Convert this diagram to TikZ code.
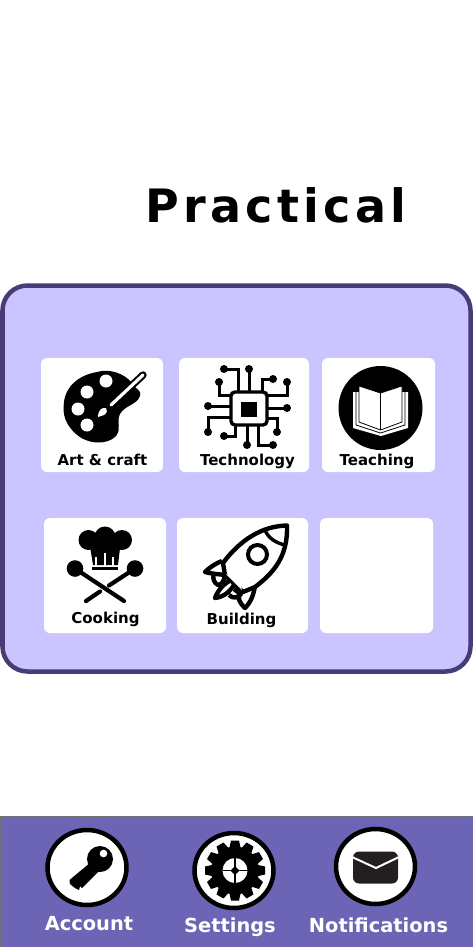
\documentclass[tikz,border=0pt]{standalone}
\usepackage{fontspec}
\setmainfont{DejaVu Sans}
\definecolor{panelfill}{HTML}{CAC4FF}
\definecolor{paneledge}{HTML}{483C78}
\definecolor{barfill}{HTML}{6C64B4}
\definecolor{envelopeink}{HTML}{231F20}
\tikzset{
  cardbox/.style={fill=white,rounded corners=6pt,draw=none},
  cardlabel/.style={font=\bfseries\fontsize{15}{16}\selectfont,text=black,inner sep=0pt,anchor=base},
  barlabel/.style={font=\bfseries\fontsize{19.4}{20}\selectfont,text=white,inner sep=0pt,anchor=base},
  badge/.style={draw=black,line width=4.5pt,fill=white},
  trace/.style={draw=black,line width=3pt},
  tool/.style={draw=black,line width=4.2pt,line cap=round},
  hull/.style={draw=black,line width=4.4pt,fill=white,line join=round},
}
\newcommand{\dotat}[1]{\fill[black] #1 circle (4pt);}
\begin{document}
\begin{tikzpicture}[x=1pt,y=-1pt]
\useasboundingbox (0,0) rectangle (473,947);
\fill[white] (0,0) rectangle (473,947);
\node[anchor=base west,inner sep=0pt,font=\bfseries\fontsize{46}{48}\selectfont\addfontfeatures{LetterSpace=9.4}] (title) at (145,222) {Practical};
% panel
\draw[fill=panelfill,draw=paneledge,line width=4.5pt,rounded corners=25pt] (2.5,285.5) rectangle (470.5,671.5);
% cards
\path[cardbox] (41,358) rectangle (163,472);
\path[cardbox] (179,358) rectangle (309,472);
\path[cardbox] (322,358) rectangle (435,472);
\path[cardbox] (44,518) rectangle (166,633);
\path[cardbox] (177,518) rectangle (308,633);
\path[cardbox] (320,518) rectangle (433,633);
\node[cardlabel] (art) at (102.5,465) {Art \& craft};
\node[cardlabel] (tech) at (247.5,465) {Technology};
\node[cardlabel] (teach) at (377,465) {Teaching};
\node[cardlabel] (cook) at (105.5,623.5) {Cooking};
\node[cardlabel] (build) at (241.5,624.5) {Building};
% palette
\fill[black] (97,372) .. controls (110,368) and (125,374) .. (132,383)
  .. controls (136,390) and (142,390) .. (140,396)
  .. controls (137,405) and (125,405) .. (120,414)
  .. controls (116,422) and (122,428) .. (116,436)
  .. controls (108,445) and (88,445) .. (76,434)
  .. controls (66,425) and (62,415) .. (64,402)
  .. controls (66,385) and (80,375) .. (97,372) -- cycle;
\fill[white] (106,381) circle (6.5pt) (87,392) circle (6.5pt) (78,409) circle (6.5pt) (87,425) circle (6.5pt);
\draw[black,line width=7.4pt,line cap=round] (143,375) -- (110,406);
\draw[white,line width=3.2pt,line cap=round] (143,375) -- (111,405);
\fill[white] (98,417) .. controls (98,410) and (102,407) .. (106,408) .. controls (108,410) and (107,413) .. (104,415) .. controls (102,416) and (100,416) .. (98,417) -- cycle;
% chip
\draw[trace] (224,369) -| (238,392);
\draw[trace] (249,369) -- (249,392);
\draw[trace] (273,379) -| (262,392);
\draw[trace] (287,382) |- (267,395);
\draw[trace] (287,408) -- (267,408);
\draw[trace] (277,432) |- (267,418);
\draw[trace] (273,445) -| (258,425);
\draw[trace] (247,445) -- (247,425);
\draw[trace] (224,436) -| (235,425);
\draw[trace] (208,432) |- (232,417);
\draw[trace] (208,406) -- (232,406);
\draw[trace] (219,382) |- (232,395);
\foreach \p in {(224,369),(249,369),(273,379),(287,382),(287,408),(277,432),(273,445),(247,445),(224,436),(208,432),(208,406),(219,382)} {\dotat{\p}}
\draw[black,line width=3.4pt,fill=white,rounded corners=4pt] (231,392) rectangle (267,425);
\fill[black] (241,402) rectangle (257,417);
% book
\fill[black] (380.5,408) circle (42pt);
\fill[white] (353,392) -- (359,392) -- (359,386) -- (380.5,393) -- (402,386) -- (402,392) -- (408,392) -- (408,428) -- (381,436) -- (353,428) -- cycle;
\draw[black,line width=.8pt,line join=round] (359,386) -- (380.5,393) -- (402,386) -- (402,422) -- (380.5,430) -- (359,422) -- cycle (380.5,393) -- (380.5,430);
\draw[black,line width=.8pt] (356,389) -- (356,425) -- (380.5,433) -- (405,425) -- (405,389);
% cooking
\fill[black] (88.5,540) circle (10pt) (105,537) circle (10.5pt) (122,540) circle (10pt);
\fill[black] (89,540) -- (121,540) -- (118,565) -- (93,565) -- cycle;
\draw[white,line width=1.3pt] (96,557) -- (96,566) (105,553) -- (105,566) (113,557) -- (113,566);
\fill[black] (92,567) rectangle (118,569.5);
\fill[black] (75,568.5) circle (8.3pt) (135,568.5) circle (8.3pt);
\draw[tool] (75,568.5) -- (124,601);
\draw[tool] (135,568.5) -- (109,585.5);
\draw[tool] (100,591.5) -- (86,601);
% rocket
\draw[hull] (239,597) .. controls (238,601) and (243,606) .. (245,608) .. controls (251,602) and (254,594) .. (255,585);
\draw[hull] (214,573) .. controls (212,578) and (214,583) .. (218,585) .. controls (222,585) and (224,580) .. (225,576);
\draw[hull] (222,561) .. controls (216,563) and (209,568) .. (205,572) .. controls (212,574) and (218,574) .. (225,575);
\draw[hull] (236,578.5) .. controls (225,581) and (218,590) .. (215,598) .. controls (224,597) and (234,590) .. (236,578.5) -- cycle;
\draw[hull] (234,589) .. controls (238,592) and (240,594) .. (241,594) .. controls (238,598) and (233,599) .. (229,595);
\draw[hull] (287,525.5) .. controls (262,526) and (240,540) .. (223,563) -- (225,575) -- (243,592) -- (255,587) .. controls (275,572) and (288,555) .. (287,525.5) -- cycle;
\draw[hull,fill=none,line width=3.4pt] (265,530) .. controls (268,538) and (276,543) .. (285,545);
\draw[draw=black,line width=4pt] (257.5,554.5) circle (9.5pt);
\fill[white] (226,574) -- (242,590) -- (238,578) -- cycle;
% bar
\draw[fill=barfill,draw=black!55,line width=1pt] (.5,816.5) rectangle (474,948);
\draw[badge] (87,867.5) ellipse (39.5pt and 37.5pt);
\draw[badge] (234,870.5) ellipse (39.5pt and 37.5pt);
\draw[badge] (375.5,866.5) ellipse (39.5pt and 37.5pt);
% key
\fill[black] (100,859) circle (13pt);
\fill[black] (91,862) -- (100,870) -- (82,888) -- (80,886) -- (79,890) -- (75,888) -- (70,884) -- (69.5,880) -- cycle;
\fill[white] (103.5,853.5) circle (3.8pt);
% gear
\foreach \a in {0,30,...,330} {\fill[black,rotate around={\a:(235,870.5)}] (231,840.5) -- (239,840.5) -- (241.5,852) -- (228.5,852) -- cycle;}
\fill[black] (235,870.5) circle (24pt);
\fill[white] (235,870.5) circle (12.5pt);
\draw[black,line width=1.2pt] (235,858) -- (235,883) (222.5,870.5) -- (247.5,870.5);
\fill[black] (235,866) -- (239.5,870.5) -- (235,875) -- (230.5,870.5) -- cycle;
% envelope
\fill[envelopeink,rounded corners=6pt] (353,851.5) rectangle (398,883.5);
\draw[white,line width=2pt] (352,857) -- (376,868) -- (399,857);
\node[barlabel] (acct) at (89,930) {Account};
\node[barlabel] (sett) at (230,932) {Settings};
\node[barlabel] (notif) at (378.5,932) {Notifications};
\end{tikzpicture}
\end{document}
